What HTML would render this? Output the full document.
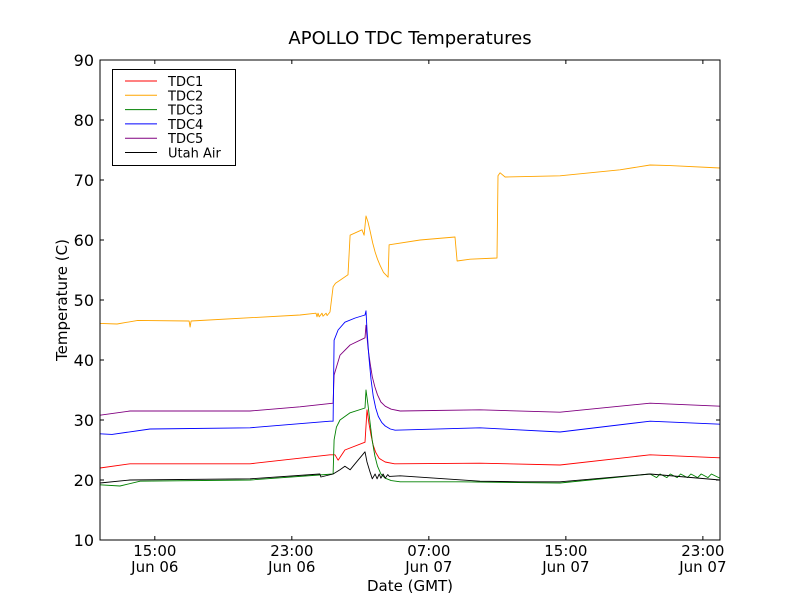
<!DOCTYPE html>
<html><head><meta charset="utf-8"><style>
body{margin:0;background:#fff;font-family:"DejaVu Sans","Liberation Sans",sans-serif}
svg text{font-family:"DejaVu Sans","Liberation Sans",sans-serif}
</style></head><body>
<svg id="chart" width="800" height="600">
<rect width="800" height="600" fill="#fff"/>
</svg>
<script>
const xTickHours=[15,23,31,39,47];
const xTickTimes=["15:00","23:00","07:00","15:00","23:00"];
const xTickDays=["Jun 06","Jun 06","Jun 07","Jun 07","Jun 07"];
const yTicks=[10,20,30,40,50,60,70,80,90];
const names=["TDC1","TDC2","TDC3","TDC4","TDC5","Utah Air"];
const colors=["#ff0000","#ffa500","#008000","#0000ff","#800080","#000000"];
const tdc2Hours=[11.8,12.8,14.0,17.0,17.06,17.12,23.48,24.41,24.47,24.53,24.6,24.76,24.82,25.0,25.06,25.23,25.41,25.55,25.81,26.28,26.4,27.1,27.22,27.33,27.45,27.57,27.72,27.86,28.0,28.15,28.35,28.62,28.68,30.49,32.53,32.65,33.41,34.98,35.04,35.16,35.45,38.66,42.16,43.92,45.08,48.0];
const tdc2Vals=[46.1,46.0,46.6,46.5,45.5,46.5,47.5,47.8,47.2,47.8,47.2,47.8,47.3,47.8,47.4,48.0,52.2,52.8,53.3,54.2,60.8,61.7,60.8,64.0,63.0,61.5,59.5,58.0,56.8,55.8,54.6,53.8,59.2,60.0,60.5,56.5,56.8,57.0,70.7,71.2,70.5,70.7,71.7,72.5,72.4,72.0];
const tdc4Hours=[11.8,12.5,14.72,20.56,25.23,25.41,25.47,25.7,26.1,26.7,27.27,27.33,27.39,27.5,27.62,27.75,27.9,28.05,28.25,28.45,28.75,29.03,33.99,38.66,43.92,48.0];
const tdc4Vals=[27.7,27.6,28.5,28.7,29.8,29.8,43.3,45.0,46.3,47.0,47.5,48.2,45.0,40.5,36.8,34.0,32.0,30.6,29.6,29.0,28.5,28.3,28.7,28.0,29.8,29.3];
const tdc5Hours=[11.8,13.55,20.56,23.48,25.41,25.47,25.81,26.4,27.27,27.33,27.45,27.57,27.7,27.85,28.0,28.2,28.45,28.8,29.33,33.99,38.66,43.92,48.0];
const tdc5Vals=[30.8,31.5,31.5,32.2,32.8,37.5,40.8,42.5,43.7,45.8,42.0,39.5,37.2,35.5,34.2,33.0,32.3,31.8,31.5,31.7,31.3,32.8,32.3];
const tdc1Hours=[11.8,13.55,20.56,25.23,25.52,25.7,26.1,27.27,27.39,27.5,27.62,27.75,27.9,28.1,28.45,29.0,33.99,38.66,43.92,48.0];
const tdc1Vals=[22.0,22.7,22.7,24.2,24.2,23.3,25.0,26.3,31.7,29.5,27.5,25.8,24.6,23.6,23.0,22.7,22.8,22.5,24.2,23.7];
const tdc3Hours=[11.8,12.97,14.14,20.56,25.41,25.47,25.6,25.81,26.4,27.27,27.33,27.45,27.57,27.7,27.85,28.0,28.2,28.45,28.8,29.33,32.83,38.66,43.92,44.3,44.5,44.9,45.1,45.5,45.7,46.1,46.3,46.7,46.9,47.3,47.5,48.0];
const tdc3Vals=[19.2,19.0,19.8,20.0,21.0,26.7,28.8,30.0,31.2,32.0,35.0,32.5,29.5,26.5,24.0,22.3,21.0,20.3,19.9,19.7,19.7,19.5,21.0,20.4,21.0,20.4,21.0,20.4,21.0,20.4,21.0,20.4,21.0,20.4,21.0,20.3];
const airHours=[11.8,13.55,20.56,24.64,24.7,25.41,25.81,26.1,26.4,26.69,27.27,27.39,27.57,27.7,27.86,27.98,28.1,28.2,28.33,28.45,28.6,28.7,29.33,33.99,36.33,38.66,43.92,48.0];
const airVals=[19.5,20.0,20.2,21.0,20.5,21.0,21.7,22.3,21.7,22.7,24.7,23.0,21.3,20.2,21.0,20.2,21.0,20.3,21.0,20.3,20.9,20.6,20.7,19.8,19.7,19.7,21.0,20.0];
const seriesHours=[tdc1Hours,tdc2Hours,tdc3Hours,tdc4Hours,tdc5Hours,airHours];
const seriesVals=[tdc1Vals,tdc2Vals,tdc3Vals,tdc4Vals,tdc5Vals,airVals];

const NS="http://www.w3.org/2000/svg";
const svg=document.getElementById('chart');
const L=100,R=720,T=60,B=540,xmin=11.8,xmax=48.0,ymin=10,ymax=90;
const X=h=>L+(h-xmin)/(xmax-xmin)*(R-L);
const Y=v=>B-(v-ymin)/(ymax-ymin)*(B-T);
function el(tag,attrs,parent){const e=document.createElementNS(NS,tag);for(const k in attrs)e.setAttribute(k,attrs[k]);(parent||svg).appendChild(e);return e;}
const clip=el('clipPath',{id:'pc'});el('rect',{x:L,y:T,width:R-L,height:B-T},clip);
const plot=el('g',{'clip-path':'url(#pc)'});


[1,4,3,0,2,5].forEach(i=>{
  const d=seriesHours[i].map((h,j)=>(j?'L':'M')+X(h).toFixed(1)+','+Y(seriesVals[i][j]).toFixed(1)).join('');
  const p=el('path',{d:d,fill:'none',stroke:colors[i],'stroke-width':0.9,'stroke-linejoin':'round'},plot);
  
  
});
const frame=el('rect',{x:L,y:T,width:R-L,height:B-T,fill:'none',stroke:'#000','stroke-width':1});


yTicks.forEach(v=>{
  const y=Y(v);
  el('line',{x1:L,x2:L+4,y1:y,y2:y,stroke:'#000'});
  el('line',{x1:R-4,x2:R,y1:y,y2:y,stroke:'#000'});
  const t=el('text',{x:L-6,y:y+6,'text-anchor':'end','font-size':16});
  t.textContent=v;
  
  
});
xTickHours.forEach((h,i)=>{
  const x=X(h);
  el('line',{x1:x,x2:x,y1:B,y2:B-4,stroke:'#000'});
  el('line',{x1:x,x2:x,y1:T,y2:T+4,stroke:'#000'});
  const t=el('text',{x:x,y:B+16,'text-anchor':'middle','font-size':15});
  t.textContent=xTickTimes[i];
  
  
  const t2=el('text',{x:x,y:B+32,'text-anchor':'middle','font-size':15});
  t2.textContent=xTickDays[i];
  
  
});
const title=el('text',{x:410,y:44,'text-anchor':'middle','font-size':18});
title.textContent='APOLLO TDC Temperatures';


const xl=el('text',{x:410,y:591,'text-anchor':'middle','font-size':15});
xl.textContent='Date (GMT)';


const yl=el('text',{x:0,y:0,'text-anchor':'middle','font-size':15,transform:'translate(67,300) rotate(-90)'});
yl.textContent='Temperature (C)';


const lg=el('g',{});


el('rect',{x:112.5,y:69.5,width:123,height:96,fill:'#fff',stroke:'#000','stroke-width':1},lg);
names.forEach((n,i)=>{
  const y=81+i*14.3;
  el('line',{x1:125,x2:157,y1:y,y2:y,stroke:colors[i],'stroke-width':1},lg);
  const t=el('text',{x:168,y:y+5,'font-size':13},lg);
  t.textContent=n;
  
  
});
</script>
</body></html>
